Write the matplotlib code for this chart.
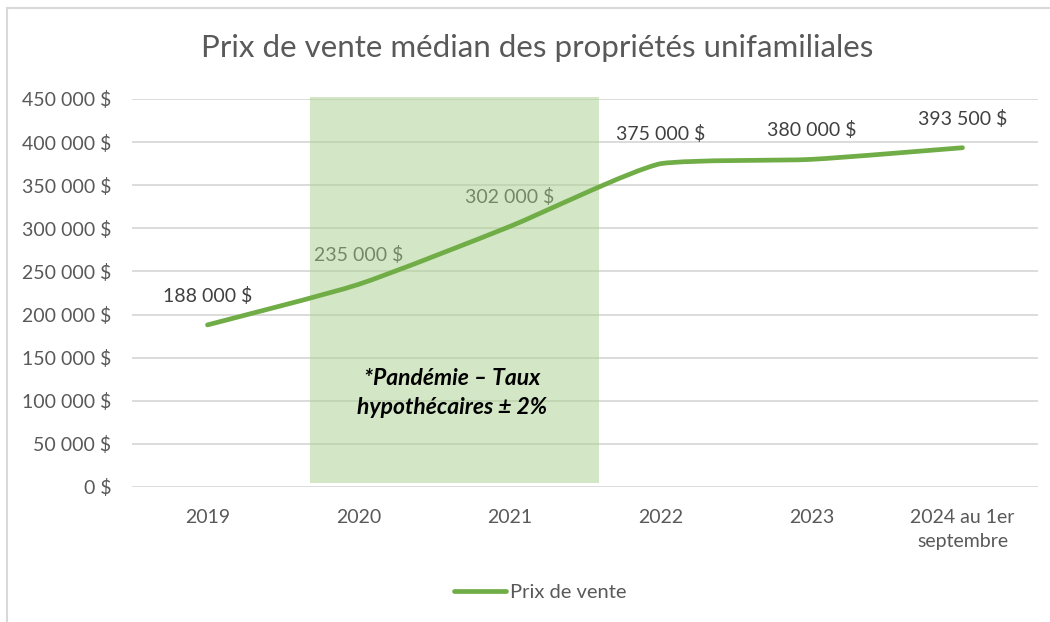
import matplotlib.pyplot as plt
from matplotlib.path import Path
from matplotlib.patches import PathPatch, Rectangle
from matplotlib.lines import Line2D

plt.rcParams['font.family'] = ['Lato', 'DejaVu Sans']

categories = ["2019", "2020", "2021", "2022", "2023", "2024 au 1er\nseptembre"]
prix = [188000, 235000, 302000, 375000, 380000, 393500]
etiquettes = ["188 000 $", "235 000 $", "302 000 $", "375 000 $", "380 000 $", "393 500 $"]
yticks = list(range(0, 450001, 50000))
vert = "#70ad47"
gris = "#595959"


def fmt(v):
    return f"{v:,}".replace(",", " ") + " $"


def clamp(v, a, b):
    return max(min(a, b), min(max(a, b), v))


def smooth_path(xs, ys, k=10):
    # light Catmull-Rom -> Bezier smoothing, no overshoot
    pts = list(zip(xs, ys))
    verts = [pts[0]]
    codes = [Path.MOVETO]
    n = len(pts)
    for i in range(n - 1):
        p0 = pts[i - 1] if i > 0 else pts[i]
        p1 = pts[i]
        p2 = pts[i + 1]
        p3 = pts[i + 2] if i + 2 < n else pts[i + 1]
        c1 = (p1[0] + (p2[0] - p0[0]) / k, clamp(p1[1] + (p2[1] - p0[1]) / k, p1[1], p2[1]))
        c2 = (p2[0] - (p3[0] - p1[0]) / k, clamp(p2[1] - (p3[1] - p1[1]) / k, p1[1], p2[1]))
        verts += [c1, c2, p2]
        codes += [Path.CURVE4] * 3
    return Path(verts, codes)


fig = plt.figure(figsize=(10.5, 6.22), dpi=100)
ax = fig.add_axes([132 / 1050, 1 - 487 / 622, 906 / 1050, 388 / 622])

x = list(range(len(categories)))
ax.add_patch(PathPatch(smooth_path(x, prix), facecolor="none", edgecolor=vert,
                       lw=3.4, capstyle="round", joinstyle="round", zorder=6))

for xi, v, lab in zip(x, prix, etiquettes):
    ax.annotate(lab, (xi, v), xytext=(0, 21), textcoords="offset points",
                ha="center", va="center", fontsize=14, color="#404040", zorder=4)

# zone pandemie
ax.add_patch(Rectangle((0.68, 4500), 2.593 - 0.68, 452300 - 4500,
                       facecolor="#a9d18e", alpha=0.5, edgecolor="none",
                       zorder=5, clip_on=False))
ax.text(1.62, 109000, "*Pandémie – Taux\nhypothécaires ± 2%", ha="center", va="center",
        fontsize=16.5, fontweight="bold", style="italic", color="black",
        linespacing=1.5, zorder=7)

ax.set_xlim(-0.5, 5.5)
ax.set_ylim(0, 450000)
ax.set_yticks(yticks)
ax.set_yticklabels([fmt(v) for v in yticks])
ax.set_xticks(x)
ax.set_xticklabels(categories)
for t in ax.get_xticklabels():
    t.set_linespacing(1.45)
ax.grid(axis="y", color="#d9d9d9", lw=1.3, zorder=0)
for s in ax.spines.values():
    s.set_visible(False)
ax.tick_params(length=0, labelsize=14, colors=gris)
ax.tick_params(axis="y", pad=15)
ax.tick_params(axis="x", pad=16)
ax.set_axisbelow(True)

fig.text(537 / 1050, 1 - 48 / 622, "Prix de vente médian des propriétés unifamiliales",
         ha="center", va="center", fontsize=22.5, color=gris)

fig.legend([Line2D([], [], color=vert, lw=3.4, solid_capstyle="round")], ["Prix de vente"],
           loc="center", bbox_to_anchor=(540 / 1050, 1 - 592 / 622), frameon=False,
           fontsize=14.5, labelcolor=gris, handlelength=2.6, handletextpad=0.2)

# cadre du graphique
fig.add_artist(Line2D([7 / 1050, 7 / 1050], [0, 1 - 8 / 622], color="#d9d9d9", lw=1.5))
fig.add_artist(Line2D([7 / 1050, 1], [1 - 8 / 622, 1 - 8 / 622], color="#d9d9d9", lw=1.5))

fig.savefig("out.png", dpi=100)
